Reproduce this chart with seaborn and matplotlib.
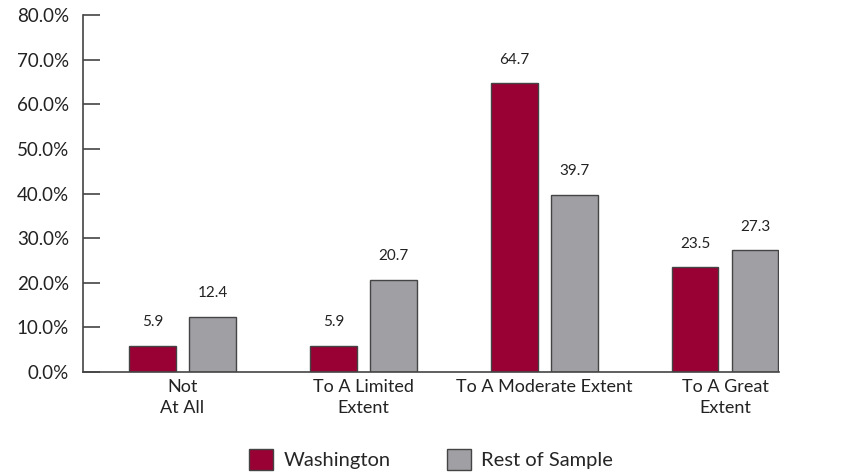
import numpy as np
import pandas as pd
import seaborn as sns
import matplotlib.pyplot as plt

categories = ["Not\nAt All", "To A Limited\nExtent", "To A Moderate Extent", "To A Great\nExtent"]
washington = [5.9, 5.9, 64.7, 23.5]
rest_of_sample = [12.4, 20.7, 39.7, 27.3]
groups = ["Washington", "Rest of Sample"]
colors = ["#990033", "#A0A0A4"]

df = pd.DataFrame({
    "category": categories * 2,
    "group": [groups[0]] * len(categories) + [groups[1]] * len(categories),
    "value": washington + rest_of_sample,
})

sns.set_style("white")
plt.rcParams["font.family"] = ["Lato", "DejaVu Sans"]

fig = plt.figure(figsize=(8.41, 4.73), dpi=100)
ax = fig.add_axes([0.0987, 0.2135, 0.828, 0.7545])

sns.barplot(data=df, x="category", y="value", hue="group", hue_order=groups,
            palette=colors, saturation=1, width=0.663, gap=0.22,
            edgecolor="#444444", linewidth=1.0, ax=ax, legend=True)

for cont in ax.containers:
    ax.bar_label(cont, fmt="%.1f", padding=12, fontsize=11, color="#222222")

ax.set_ylim(0, 80)
ax.set_xlim(-0.55, 3.3)
ax.set_yticks(np.arange(0, 81, 10))
ax.set_yticklabels([f"{v:.1f}%" for v in np.arange(0, 81, 10)], fontsize=13.5, color="#222222")
ax.tick_params(axis="y", direction="in", length=12, width=1.2, color="#444444", pad=10, left=True)
ax.tick_params(axis="x", length=0, pad=5, labelsize=13, labelcolor="#222222")
for lbl in ax.get_xticklabels():
    lbl.set_linespacing(1.35)
ax.set_xlabel("")
ax.set_ylabel("")

ax.spines["top"].set_visible(False)
ax.spines["right"].set_visible(False)
for s in ["left", "bottom"]:
    ax.spines[s].set_color("#444444")
    ax.spines[s].set_linewidth(1.2)

ax.legend(loc="center", bbox_to_anchor=(0.5, -0.245), ncol=2, frameon=False,
          fontsize=14.5, handlelength=1.2, handleheight=1.2, handletextpad=0.5,
          columnspacing=2.8)

plt.savefig("out.png", dpi=100)
